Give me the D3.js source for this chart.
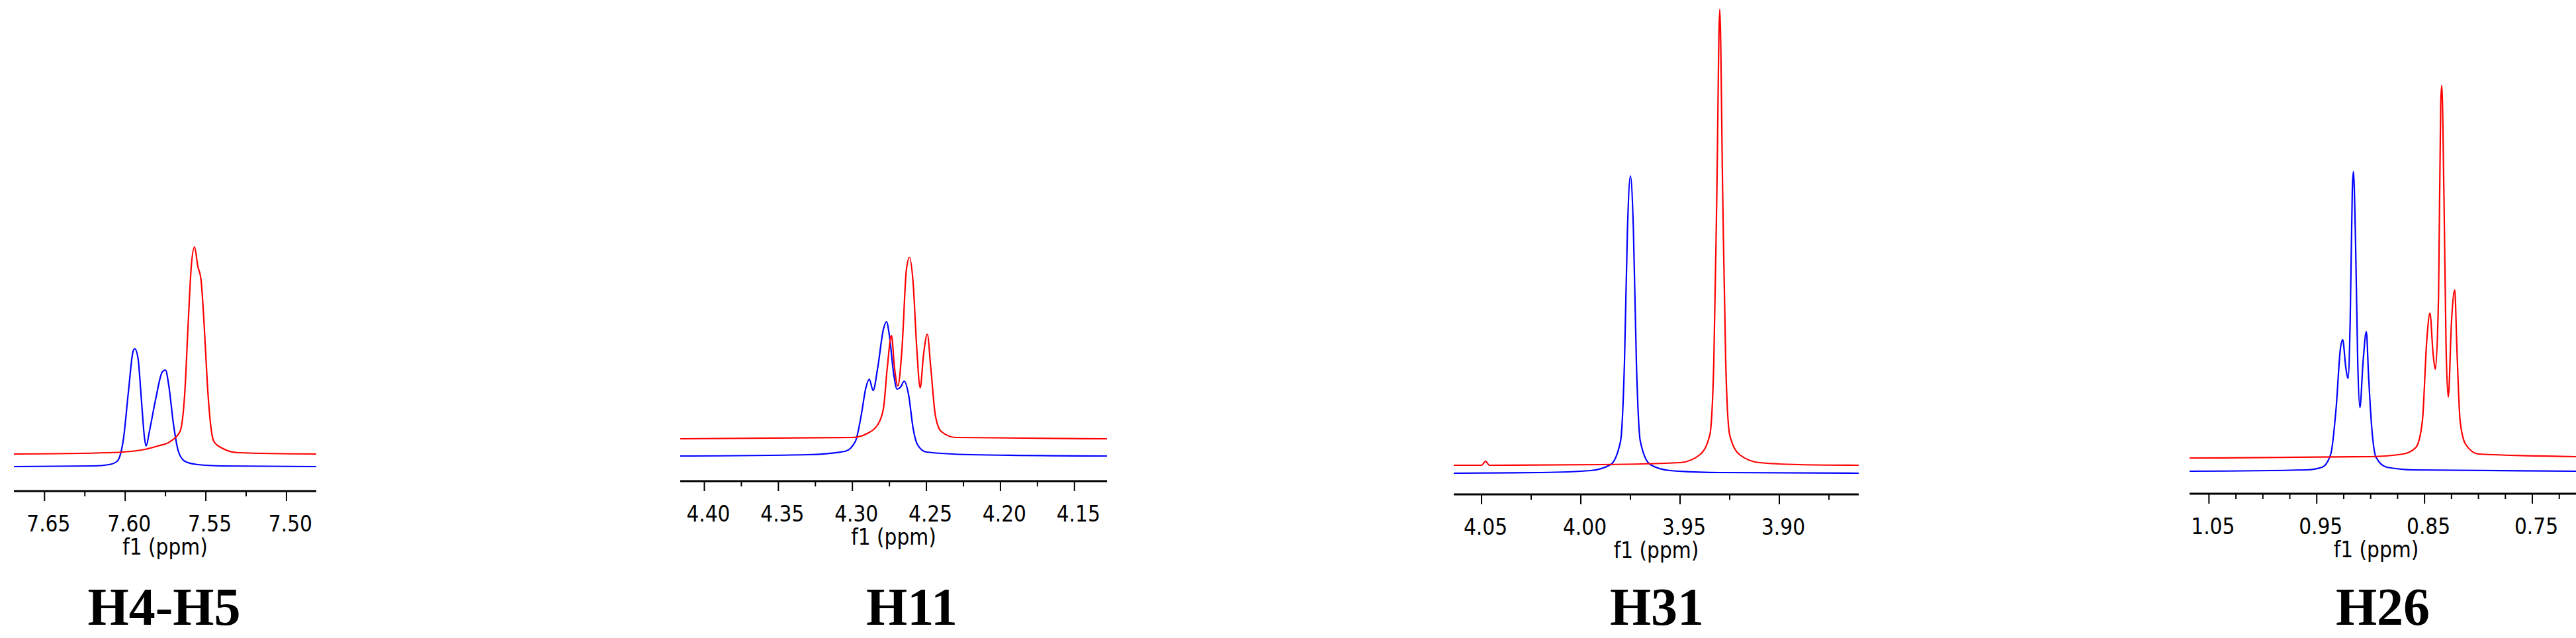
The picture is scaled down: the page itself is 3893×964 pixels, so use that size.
<!DOCTYPE html>
<html><head><meta charset="utf-8">
<script src="https://cdn.jsdelivr.net/npm/d3@7"></script>
<style>body{margin:0;background:#fff}</style></head>
<body><svg id="c" width="3893" height="964"></svg>
<script>
const titles = ["H4-H5","H11","H31","H26"];
const domains = [[7.669,7.4815],[4.4163,4.128],[4.064,3.86],[1.068,0.7095]];
const majorTicks = [[7.65,7.60,7.55,7.50],[4.40,4.35,4.30,4.25,4.20,4.15],[4.05,4.00,3.95,3.90],[1.05,0.95,0.85,0.75]];
const tickStep = [0.025,0.025,0.025,0.025];
const blue1=[[7.669,37],[7.62,38],[7.61,40],[7.605,45],[7.601,80],[7.598,150],[7.595,212],[7.594,215],[7.592,200],[7.590,140],[7.588,80],[7.587,68],[7.585,90],[7.581,140],[7.577,180],[7.575,183],[7.573,160],[7.570,100],[7.567,60],[7.563,45],[7.555,40],[7.54,38],[7.4815,37]];
const red1=[[7.669,56],[7.61,58],[7.59,62],[7.58,68],[7.572,75],[7.566,90],[7.563,150],[7.561,250],[7.559,340],[7.557,369],[7.555,340],[7.553,320],[7.551,250],[7.549,160],[7.547,100],[7.545,75],[7.540,65],[7.530,58],[7.4815,56]];
const blue2=[[4.4163,38],[4.33,40],[4.305,45],[4.298,60],[4.294,100],[4.291,140],[4.2886,154],[4.286,137],[4.283,170],[4.279,230],[4.277,241],[4.275,220],[4.272,160],[4.2698,139],[4.2675,142],[4.265,151],[4.262,130],[4.259,80],[4.256,55],[4.25,44],[4.22,40],[4.128,38]];
const red2=[[4.4163,64],[4.30,66],[4.29,72],[4.283,85],[4.279,110],[4.2765,170],[4.2736,220],[4.2715,170],[4.2693,144],[4.2665,200],[4.2635,320],[4.2614,338],[4.259,300],[4.2565,200],[4.2542,141],[4.252,190],[4.2494,222],[4.247,170],[4.244,100],[4.24,75],[4.23,66],[4.128,64]];
const blue3=[[4.064,32],[4.02,33],[3.995,36],[3.985,45],[3.98,80],[3.978,200],[3.9765,400],[3.975,481],[3.9735,400],[3.972,200],[3.970,80],[3.965,45],[3.955,36],[3.93,33],[3.86,32]];
const red3=[[4.064,44],[4.05,44],[4.048,50],[4.046,44],[3.99,45],[3.95,48],[3.94,60],[3.935,90],[3.933,200],[3.9315,450],[3.930,733],[3.9285,450],[3.927,200],[3.925,90],[3.92,60],[3.91,48],[3.89,45],[3.86,44]];
const blue4=[[1.068,34],[0.96,36],[0.945,40],[0.937,60],[0.932,130],[0.928,220],[0.926,233],[0.923,190],[0.921,174],[0.919,260],[0.917,460],[0.916,487],[0.914,380],[0.912,200],[0.910,130],[0.907,200],[0.904,245],[0.902,180],[0.899,100],[0.895,55],[0.885,40],[0.86,36],[0.7095,34]];
const red4=[[1.068,54],[0.90,56],[0.87,60],[0.858,70],[0.852,110],[0.848,230],[0.845,273],[0.842,210],[0.840,188],[0.837,300],[0.835,590],[0.834,617],[0.832,450],[0.830,220],[0.828,146],[0.825,260],[0.822,308],[0.820,220],[0.817,110],[0.812,75],[0.80,60],[0.7095,56]];
const blues=[blue1,blue2,blue3,blue4], reds=[red1,red2,red3,red4];

const layout=[{x0:21,x1:478,ay:742,tx:248},{x0:1028,x1:1673,ay:727,tx:1378},{x0:2197,x1:2809,ay:747,tx:2504},{x0:3309,x1:3893,ay:746,tx:3601}];
const svg=d3.select("#c");
layout.forEach((L,i)=>{
  const x=d3.scaleLinear().domain(domains[i]).range([L.x0,L.x1]);
  const y=d3.scaleLinear().domain([0,750]).range([L.ay,L.ay-750]);
  const g=svg.append("g");
  const line=d3.line().x(d=>x(d[0])).y(d=>y(d[1])).curve(d3.curveMonotoneX);
  g.append("path").datum(blues[i]).attr("d",line).attr("fill","none").attr("stroke","#0000ff").attr("stroke-width",2.2);
  g.append("path").datum(reds[i]).attr("d",line).attr("fill","none").attr("stroke","#ff0000").attr("stroke-width",2.2);
  const [a,b]=domains[i];
  const minor=d3.range(Math.ceil(b/tickStep[i]-1e-6),Math.floor(a/tickStep[i]+1e-6)+1).map(k=>+(k*tickStep[i]).toFixed(3));
  const ax=g.append("g").attr("transform",`translate(0,${L.ay})`);
  ax.append("line").attr("x1",L.x0).attr("x2",L.x1).attr("stroke","#000").attr("stroke-width",3);
  minor.forEach(t=>{
    const maj=majorTicks[i].some(m=>Math.abs(m-t)<1e-6);
    ax.append("line").attr("x1",x(t)).attr("x2",x(t)).attr("y1",0).attr("y2",maj?15:8).attr("stroke","#000").attr("stroke-width",2);
  });
  majorTicks[i].forEach(t=>{
    ax.append("text").attr("x",x(t)+6).attr("y",61).attr("text-anchor","middle")
      .attr("font-family","DejaVu Sans Condensed, DejaVu Sans").attr("font-size",33).text(t.toFixed(2));
  });
  g.append("text").attr("x",(L.x0+Math.min(L.x1,3893))/2+ (i==3?-10:0)).attr("y",L.ay+96).attr("text-anchor","middle")
    .attr("font-family","DejaVu Sans Condensed, DejaVu Sans").attr("font-size",33).text("f1 (ppm)");
  g.append("text").attr("x",L.tx).attr("y",944).attr("text-anchor","middle")
    .attr("font-family","Liberation Serif, serif").attr("font-weight","bold").attr("font-size",80).text(titles[i]);
});
</script></body></html>
